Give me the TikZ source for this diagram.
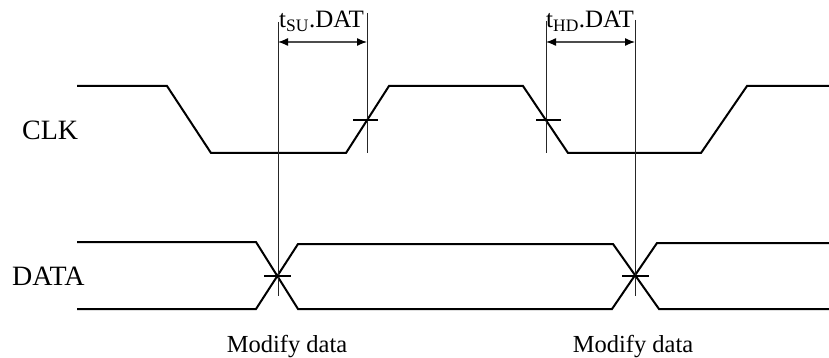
\documentclass[tikz,border=0pt]{standalone}
\usepackage{fontspec}
\setmainfont{Liberation Serif}
\usetikzlibrary{arrows.meta}
\tikzset{
  wave/.style={line width=2pt, line join=miter},
  guide/.style={line width=0.8pt, black!85},
  tickmark/.style={line width=1.6pt},
  dim/.style={line width=1.3pt, black!70, {Latex[length=10pt,width=8pt,black]}-{Latex[length=10pt,width=8pt,black]}},
  siglabel/.style={anchor=base west, inner sep=0pt, font=\fontsize{28}{30}\selectfont},
  timelabel/.style={anchor=base west, inner sep=0pt, font=\fontsize{25}{27}\selectfont},
  modlabel/.style={anchor=base, inner sep=0pt, font=\fontsize{24.5}{26}\selectfont}
}
\begin{document}
\begin{tikzpicture}[x=1pt,y=-1pt]
\useasboundingbox (0,0) rectangle (829,358);
% CLK waveform
\draw[wave] (77,86) -- (167,86) -- (211,153) -- (346,153) -- (389,86) -- (523,86) -- (568,153) -- (701,153) -- (747,86) -- (829,86);
% DATA waveform
\draw[wave] (77,242) -- (256,242) -- (298,309) -- (612,309) -- (657,243) -- (829,243);
\draw[wave] (77,309) -- (256,309) -- (298,244) -- (613,244) -- (659,309) -- (829,309);
% guide lines
\coordinate (v1t) at (278,22);  \coordinate (v1b) at (278,296);
\coordinate (v2t) at (367,13);  \coordinate (v2b) at (367,153);
\coordinate (v3t) at (546,21);  \coordinate (v3b) at (546,153);
\coordinate (v4t) at (635,20);  \coordinate (v4b) at (635,296);
\draw[guide] (v1t) -- (v1b);
\draw[guide] (v2t) -- (v2b);
\draw[guide] (v3t) -- (v3b);
\draw[guide] (v4t) -- (v4b);
% tick marks
\draw[tickmark] (353,120) -- (378,120);
\draw[tickmark] (536,120) -- (561,120);
\draw[tickmark] (264,276) -- (291,276);
\draw[tickmark] (622,276) -- (649,276);
% dimension arrows
\coordinate (a1) at (278,42); \coordinate (a2) at (367,42);
\coordinate (a3) at (546,42); \coordinate (a4) at (635,42);
\draw[dim] (a1) -- (a2);
\draw[dim] (a3) -- (a4);
% labels
\node[timelabel] (tsu) at (279,28) {t\textsubscript{SU}.DAT};
\node[timelabel] (thd) at (546,28) {t\textsubscript{HD}.DAT};
\node[siglabel] (clk) at (22,140) {CLK};
\node[siglabel] (data) at (12,285) {DATA};
\node[modlabel] (mod1) at (287,352) {Modify data};
\node[modlabel] (mod2) at (633,352) {Modify data};
\end{tikzpicture}
\end{document}
